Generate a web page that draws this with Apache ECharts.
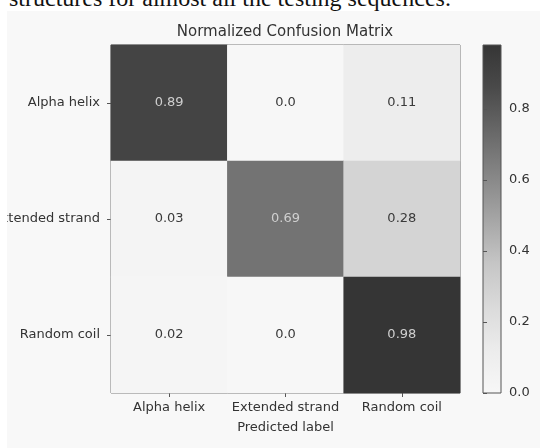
<!DOCTYPE html>
<html>
<head>
<meta charset="utf-8">
<script src="https://cdn.jsdelivr.net/npm/echarts@6/dist/echarts.min.js"></script>
<style>
  html, body { margin: 0; padding: 0; width: 540px; height: 448px; overflow: hidden; background: #ffffff; }
  #cap { position: absolute; left: 9px; top: -14px; font: 24px/24px "Liberation Serif", "DejaVu Serif", serif; color: #111; white-space: nowrap; }
  #chart { position: absolute; left: 7px; top: 11px; width: 533px; height: 437px; background: #f8f8f8; }
</style>
</head>
<body>
<div id="cap">structures for almost all the testing sequences.</div>
<div id="chart"></div>
<script>
// ---- data ----
const trueLabels = ['Alpha helix', 'Extended strand', 'Random coil'];
const predLabels = ['Alpha helix', 'Extended strand', 'Random coil'];
const rowAlpha = [0.89, 0.0, 0.11];
const rowExtended = [0.03, 0.69, 0.28];
const rowRandom = [0.02, 0.0, 0.98];
const colorbarTicks = [0.0, 0.2, 0.4, 0.6, 0.8];
const chartTitle = 'Normalized Confusion Matrix';
const xName = 'Predicted label';

const rows = [rowAlpha, rowExtended, rowRandom];
const vmax = 0.98;
const greys = ['#f7f7f7', '#ececec', '#dadada', '#c5c5c5', '#a5a5a5', '#868686', '#686868', '#4a4a4a', '#353535'];

const cells = [];
rows.forEach((r, i) => r.forEach((v, j) => cells.push([j, i, v])));

const stops = greys.map((c, k) => ({ offset: 1 - k / (greys.length - 1), color: c }));

const chart = echarts.init(document.getElementById('chart'), null, { renderer: 'canvas' });
const font = 'DejaVu Sans';
chart.setOption({
  backgroundColor: '#f8f8f8',
  animation: false,
  title: {
    text: chartTitle, left: 278, top: 14, textAlign: 'center', padding: 0,
    textStyle: { fontFamily: font, fontSize: 15, fontWeight: 'normal', color: '#333' }
  },
  grid: [
    { left: 104, top: 34, width: 349, height: 348, show: true, borderColor: '#555', borderWidth: 1,
      backgroundColor: 'transparent', containLabel: false, outerBoundsMode: 'none' },
    { left: 476, top: 34, width: 18, height: 348, show: true, borderColor: '#555', borderWidth: 1,
      containLabel: false, outerBoundsMode: 'none',
      backgroundColor: { type: 'linear', x: 0, y: 0, x2: 0, y2: 1, colorStops: stops } }
  ],
  xAxis: [
    { type: 'category', gridIndex: 0, data: predLabels, position: 'bottom',
      name: xName, nameLocation: 'middle', nameGap: 28,
      nameTextStyle: { fontFamily: font, fontSize: 13, color: '#333' },
      axisLine: { show: false }, splitLine: { show: false },
      axisTick: { show: true, alignWithLabel: true, length: 4, lineStyle: { color: '#555' } },
      axisLabel: { fontFamily: font, fontSize: 13, color: '#333', margin: 8, interval: 0, hideOverlap: false } },
    { type: 'value', gridIndex: 1, show: false, min: 0, max: 1 }
  ],
  yAxis: [
    { type: 'category', gridIndex: 0, data: trueLabels, inverse: true,
      axisLine: { show: false }, splitLine: { show: false },
      axisTick: { show: true, alignWithLabel: true, length: 4, lineStyle: { color: '#555' } },
      axisLabel: { fontFamily: font, fontSize: 13, color: '#333', margin: 11, interval: 0, hideOverlap: false } },
    { type: 'value', gridIndex: 1, position: 'right', min: 0, max: vmax, interval: 0.2,
      axisLine: { show: false }, splitLine: { show: false },
      axisTick: { show: true, length: 4, lineStyle: { color: '#555' } },
      axisLabel: { fontFamily: font, fontSize: 13, color: '#333', margin: 8, showMaxLabel: false,
        formatter: v => colorbarTicks.some(t => Math.abs(t - v) < 1e-6) ? v.toFixed(1) : '' } }
  ],
  visualMap: {
    show: false, type: 'continuous', min: 0, max: vmax, seriesIndex: 0, dimension: 2,
    inRange: { color: greys }
  },
  series: [{
    type: 'heatmap', xAxisIndex: 0, yAxisIndex: 0,
    data: cells.map(c => ({ value: c, label: { color: c[2] > vmax / 2 ? '#cfcfcf' : '#3a3a3a' } })),
    label: {
      show: true, fontFamily: font, fontSize: 13,
      formatter: p => { const v = p.value[2]; return v === 0 ? '0.0' : String(v); }
    },
    itemStyle: { borderWidth: 0 },
    emphasis: { disabled: true }
  }]
});
</script>
</body>
</html>
